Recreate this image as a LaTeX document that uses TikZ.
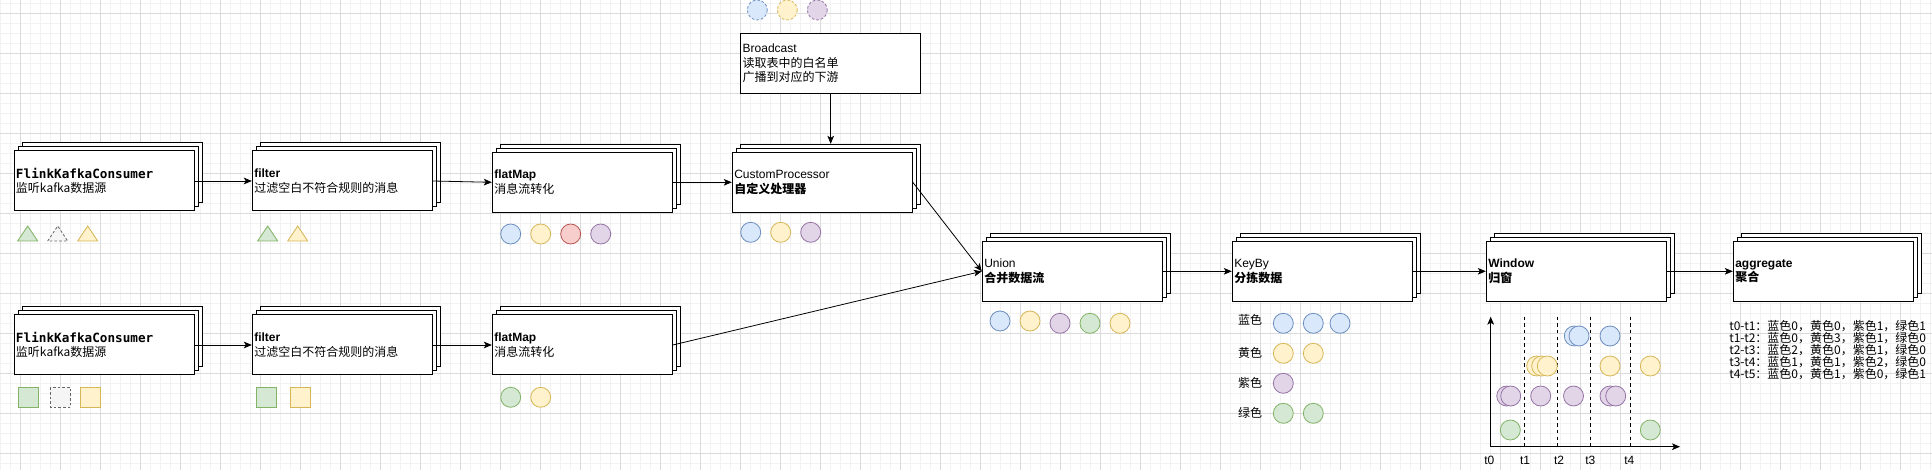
\documentclass[tikz,border=0pt]{standalone}
\usepackage{fontspec}
\setmainfont{Liberation Sans}
\newfontfamily\cjk{Noto Sans CJK SC}
\newfontfamily\monofam{DejaVu Sans Mono}
\usetikzlibrary{arrows.meta}

\definecolor{blueF}{HTML}{DAE8FC}
\definecolor{blueD}{HTML}{6C8EBF}
\definecolor{yelF}{HTML}{FFF2CC}
\definecolor{yelD}{HTML}{D6B656}
\definecolor{redF}{HTML}{F8CECC}
\definecolor{redD}{HTML}{B85450}
\definecolor{purF}{HTML}{E1D5E7}
\definecolor{purD}{HTML}{9673A6}
\definecolor{grnF}{HTML}{D5E8D4}
\definecolor{grnD}{HTML}{82B366}
\definecolor{gryF}{HTML}{F5F5F5}
\definecolor{gryD}{HTML}{666666}

\tikzset{
  gridminor/.style={draw=black!5, line width=.4pt},
  gridmajor/.style={draw=black!14, line width=.5pt},
  boxfont/.style={font=\fontsize{9pt}{10.8pt}\selectfont},
  plainbox/.style={draw, fill=white, line width=.75pt, boxfont,
    minimum width=135pt, minimum height=45pt, text width=132pt,
    inner xsep=1.5pt, inner ysep=0pt, align=left},
  stackbox/.style={plainbox,
    preaction={draw, fill=white, transform canvas={shift={(6.3pt,6pt)}}},
    preaction={draw, fill=white, transform canvas={shift={(3.15pt,3pt)}}}},
  flow/.style={-{Stealth[length=6pt,width=5pt,inset=1.5pt]}, line width=.6pt},
  bluec/.style={draw=blueD, fill=blueF, line width=.6pt},
  yelc/.style={draw=yelD, fill=yelF, line width=.6pt},
  redc/.style={draw=redD, fill=redF, line width=.6pt},
  purc/.style={draw=purD, fill=purF, line width=.6pt},
  grnc/.style={draw=grnD, fill=grnF, line width=.6pt},
  gryc/.style={draw=gryD, fill=gryF, line width=.6pt},
  dashc/.style={dash pattern=on 2pt off 1.5pt},
  keylbl/.style={font=\cjk\fontsize{9pt}{9pt}\selectfont, inner sep=0pt},
  tlbl/.style={font=\fontsize{9pt}{9pt}\selectfont, inner sep=0pt},
}

\begin{document}
\begin{tikzpicture}[x=0.75pt, y=-0.75pt]
  \useasboundingbox (0,0) rectangle (1932,470);
  % grid
  \foreach \x in {0,10,...,1930} \draw[gridminor] (\x,0) -- (\x,470);
  \foreach \y in {3,13,...,463} \draw[gridminor] (0,\y) -- (1932,\y);
  \foreach \x in {20,60,...,1900} \draw[gridmajor] (\x,0) -- (\x,470);
  \foreach \y in {13,53,...,453} \draw[gridmajor] (0,\y) -- (1932,\y);

  % operators
  \node[stackbox] (src1) at (104,181)
    {{\monofam\bfseries\fontsize{9.5pt}{10.8pt}\selectfont FlinkKafkaConsumer}\\{\cjk 监听kafka数据源}};
  \node[stackbox] (flt1) at (342.3,181)
    {\textbf{filter}\\{\cjk 过滤空白不符合规则的消息}};
  \node[stackbox] (fmap1) at (582.3,182.3)
    {\textbf{flatMap}\\{\cjk 消息流转化}};
  \node[stackbox] (proc) at (822.3,182.3)
    {CustomProcessor\\{\cjk\bfseries 自定义处理器}};
  \node[plainbox] (bcast) at (830.7,63.3)
    {Broadcast\\{\cjk 读取表中的白名单}\\{\cjk 广播到对应的下游}};

  \node[stackbox] (src2) at (104,345)
    {{\monofam\bfseries\fontsize{9.5pt}{10.8pt}\selectfont FlinkKafkaConsumer}\\{\cjk 监听kafka数据源}};
  \node[stackbox] (flt2) at (342.3,345)
    {\textbf{filter}\\{\cjk 过滤空白不符合规则的消息}};
  \node[stackbox] (fmap2) at (582.3,345)
    {\textbf{flatMap}\\{\cjk 消息流转化}};

  \node[stackbox] (union) at (1072.3,271.3)
    {Union\\{\cjk\bfseries 合并数据流}};
  \node[stackbox] (keyby) at (1322.3,271.3)
    {KeyBy\\{\cjk\bfseries 分拣数据}};
  \node[stackbox] (window) at (1576.3,271.3)
    {\textbf{Window}\\{\cjk\bfseries 归窗}};
  \node[stackbox] (agg) at (1823.3,271.3)
    {\textbf{aggregate}\\{\cjk\bfseries 聚合}};

  % connectors
  \draw[flow] (src1.east) -- (flt1.west);
  \draw[flow] (flt1.east) -- (fmap1.west);
  \draw[flow] (fmap1.east) -- (proc.west);
  \draw[flow] (bcast.south) -- ([xshift=6.3pt,yshift=6pt]proc.north);
  \draw[flow] (src2.east) -- (flt2.west);
  \draw[flow] (flt2.east) -- (fmap2.west);
  \draw[flow] (proc.east) -- (union.west);
  \draw[flow] (fmap2.east) -- (union.west);
  \draw[flow] (union.east) -- (keyby.west);
  \draw[flow] (keyby.east) -- (window.west);
  \draw[flow] (window.east) -- (agg.west);

  % triangles and squares
  \draw[grnc] (17.7,241) -- (27.7,226) -- (37.7,241) -- cycle;
  \draw[gryc, dashc] (47.7,241) -- (57.7,226) -- (67.7,241) -- cycle;
  \draw[yelc] (77.7,241) -- (87.7,226) -- (97.7,241) -- cycle;
  \draw[grnc] (257.7,241) -- (267.7,226) -- (277.7,241) -- cycle;
  \draw[yelc] (287.7,241) -- (297.7,226) -- (307.7,241) -- cycle;
  \draw[grnc] (18.3,387.3) rectangle (38.3,407.3);
  \draw[gryc, dashc] (50.3,387.3) rectangle (70.3,407.3);
  \draw[yelc] (80.3,387.3) rectangle (100.3,407.3);
  \draw[grnc] (256,387.3) rectangle (276,407.3);
  \draw[yelc] (290,387.3) rectangle (310,407.3);

  % record circles
  \draw[bluec, dashc] (757.3,10) circle (10);
  \draw[yelc, dashc] (787.3,10) circle (10);
  \draw[purc, dashc] (817.3,10) circle (10);
  \draw[bluec] (510.7,234) circle (10);
  \draw[yelc] (540.7,234) circle (10);
  \draw[redc] (570.7,234) circle (10);
  \draw[purc] (600.7,234) circle (10);
  \draw[bluec] (750.7,232.3) circle (10);
  \draw[yelc] (780.7,232.3) circle (10);
  \draw[purc] (810.7,232.3) circle (10);
  \draw[grnc] (510.7,397.3) circle (10);
  \draw[yelc] (540.7,397.3) circle (10);
  \draw[bluec] (1000,321) circle (10);
  \draw[yelc] (1030,321) circle (10);
  \draw[purc] (1060,323.3) circle (10);
  \draw[grnc] (1090,323.3) circle (10);
  \draw[yelc] (1120,323.3) circle (10);

  % keyed groups
  \node[keylbl] (kblue) at (1250,320) {蓝色};
  \node[keylbl] (kyel) at (1250,353.3) {黄色};
  \node[keylbl] (kpur) at (1250,383.3) {紫色};
  \node[keylbl] (kgrn) at (1250,412.7) {绿色};
  \foreach \x in {1283.3,1313.3,1340} \draw[bluec] (\x,323.3) circle (10);
  \foreach \x in {1283.3,1313.3} \draw[yelc] (\x,353.3) circle (10);
  \draw[purc] (1283.3,383.3) circle (10);
  \foreach \x in {1283.3,1313.3} \draw[grnc] (\x,413.3) circle (10);

  % window timeline
  \coordinate (o) at (1490.7,446.7);
  \coordinate (ytip) at (1490.7,316.7);
  \coordinate (xtip) at (1680,446.7);
  \foreach \x in {1524.3,1557.3,1590.3,1630.7}
    \draw[dash pattern=on 2.5pt off 2.5pt, line width=.5pt] (\x,316.7) -- (\x,446.7);
  \foreach \x in {1574.3,1579,1610} \draw[bluec] (\x,336) circle (10);
  \foreach \x in {1536.7,1541.7,1547.3,1610,1650.3} \draw[yelc] (\x,366) circle (10);
  \foreach \x in {1506.7,1510.7,1540.7,1573.5,1610,1615.7} \draw[purc] (\x,396) circle (10);
  \foreach \x in {1510.3,1650.3} \draw[grnc] (\x,430) circle (10);
  \draw[flow] (o) -- (ytip);
  \draw[flow] (o) -- (xtip);
  \node[tlbl] (t0) at (1489.3,460) {t0};
  \node[tlbl] (t1) at (1525,460) {t1};
  \node[tlbl] (t2) at (1559,460) {t2};
  \node[tlbl] (t3) at (1590.3,460) {t3};
  \node[tlbl] (t4) at (1629.3,460) {t4};

  % aggregate result
  \node[anchor=north west, align=left, inner sep=0pt,
    font=\cjk\fontsize{9pt}{9pt}\selectfont] (aggres) at (1729,320)
    {t0-t1：蓝色0，黄色0，紫色1，绿色1\\
     t1-t2：蓝色0，黄色3，紫色1，绿色0\\
     t2-t3：蓝色2，黄色0，紫色1，绿色0\\
     t3-t4：蓝色1，黄色1，紫色2，绿色0\\
     t4-t5：蓝色0，黄色1，紫色0，绿色1};
\end{tikzpicture}
\end{document}
